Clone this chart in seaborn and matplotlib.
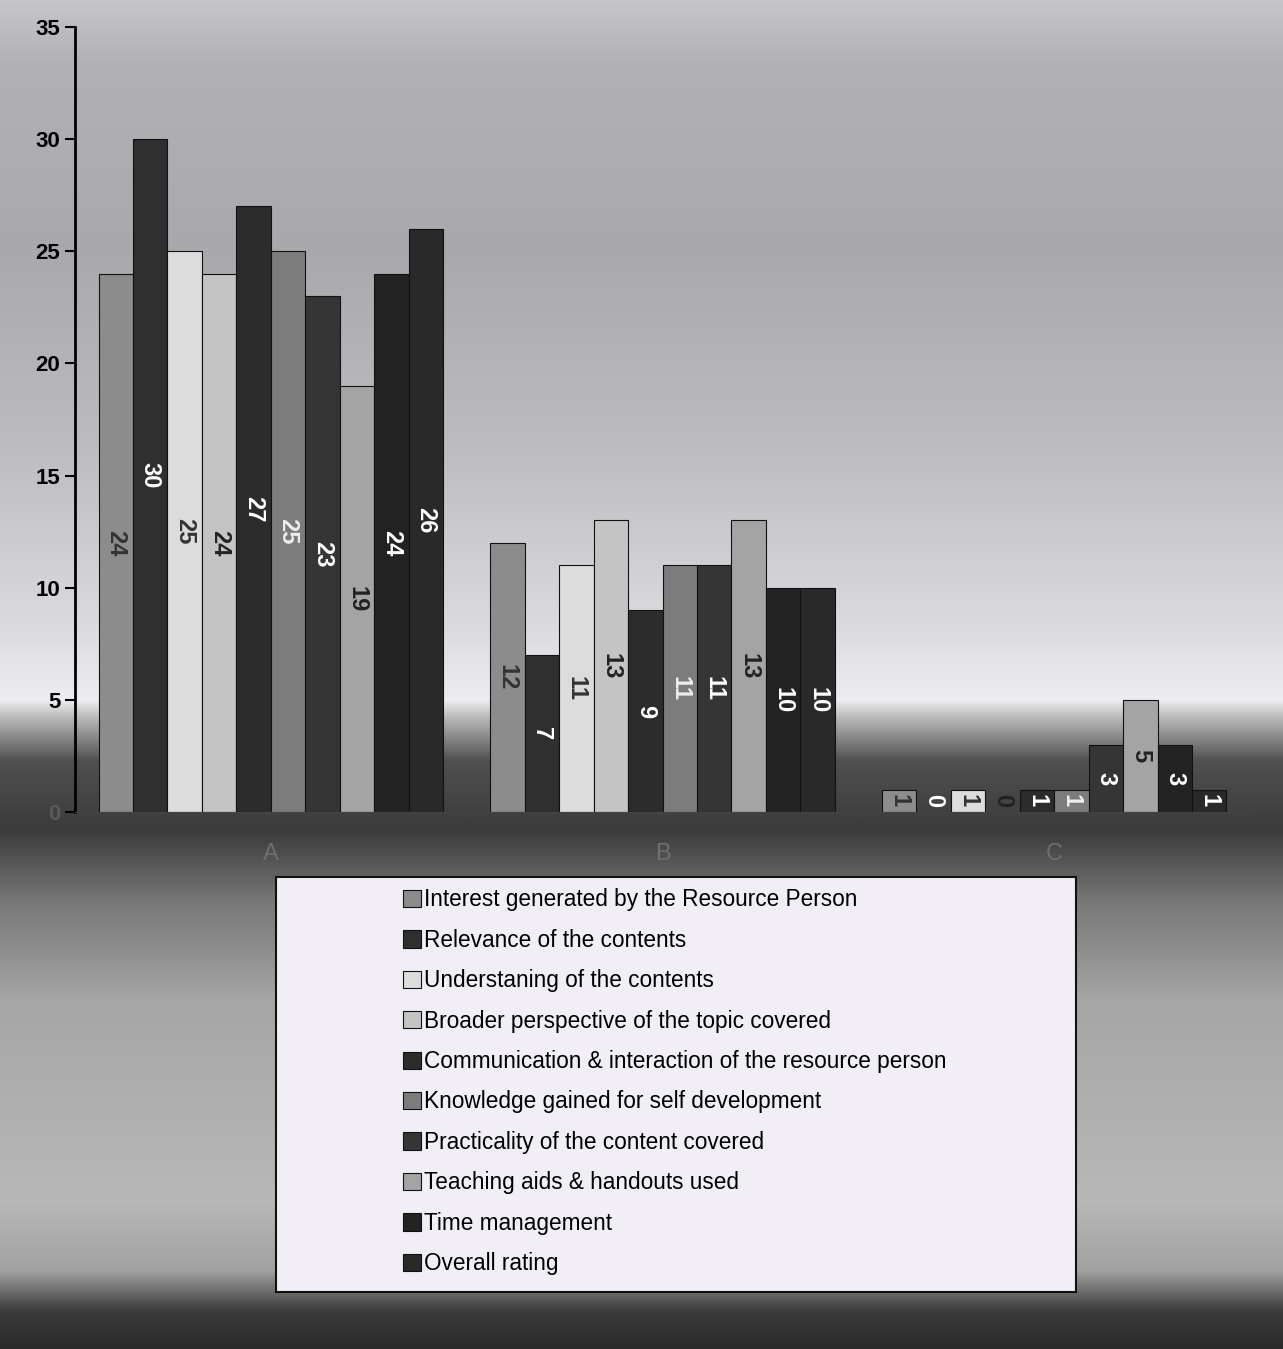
import numpy as np
import pandas as pd
import matplotlib
matplotlib.use("Agg")
import matplotlib.pyplot as plt
import matplotlib.colors as mcolors
from matplotlib.patches import Rectangle
import seaborn as sns

groups = ["A", "B", "C"]
criteria = [
    "Interest generated by the Resource Person",
    "Relevance of the contents",
    "Understaning of the contents",
    "Broader perspective of the topic covered",
    "Communication & interaction of the resource person",
    "Knowledge gained for self development",
    "Practicality of the content covered",
    "Teaching aids & handouts used",
    "Time management",
    "Overall rating",
]
counts_a = [24, 30, 25, 24, 27, 25, 23, 19, 24, 26]
counts_b = [12, 7, 11, 13, 9, 11, 11, 13, 10, 10]
counts_c = [1, 0, 1, 0, 1, 1, 3, 5, 3, 1]

bar_colors = ["#8c8c8c", "#2f2f2f", "#dcdcdc", "#c4c4c4", "#2c2c2c",
              "#7c7c7c", "#353535", "#a4a4a4", "#232323", "#292929"]
label_colors = ["#333333", "white", "#333333", "#222222", "white",
                "#eeeeee", "white", "#222222", "white", "white"]

rows = []
for g, vals in zip(groups, [counts_a, counts_b, counts_c]):
    for c, v in zip(criteria, vals):
        rows.append({"group": g, "criterion": c, "count": v})
df = pd.DataFrame(rows)

plt.rcParams["font.family"] = ["Liberation Sans", "DejaVu Sans"]

fig = plt.figure(figsize=(12.83, 13.49), dpi=100)

# grey photocopy-like background
bg = fig.add_axes([0, 0, 1, 1], zorder=-5)
stops = [(0, "#c6c6ca"), (60, "#b2b2b6"), (250, "#a9a9ad"), (450, "#bdbdc1"),
         (620, "#dadade"), (700, "#ededf1"), (716, "#bcbcbc"), (760, "#505050"),
         (830, "#3b3b3b"), (900, "#777777"), (1000, "#a6a6a6"), (1200, "#b8b8b8"),
         (1270, "#a2a2a2"), (1310, "#3c3c3c"), (1349, "#2a2a2a")]
ys = np.arange(1349)
grad = np.zeros((1349, 3))
for ch in range(3):
    grad[:, ch] = np.interp(ys, [s[0] for s in stops],
                            [mcolors.to_rgb(s[1])[ch] for s in stops])
bg.imshow(grad[:, None, :], aspect="auto", extent=[0, 1, 0, 1])
bg.axis("off")

ax = fig.add_axes([75 / 1283, 1 - 812 / 1349, 1175 / 1283, 785 / 1349])
ax.patch.set_alpha(0)
sns.barplot(data=df, x="group", y="count", hue="criterion", hue_order=criteria,
            palette=bar_colors, width=0.88, edgecolor="#111111", linewidth=0.8,
            ax=ax)

for i, cont in enumerate(ax.containers):
    for patch in cont.patches:
        h = patch.get_height()
        ax.text(patch.get_x() + patch.get_width() / 2, max(h, 1) / 2,
                f"{h:.0f}", rotation=270, ha="center", va="center",
                fontsize=17, fontweight="bold", color=label_colors[i])

ax.set_xlim(-0.5, 2.5)
ax.set_ylim(0, 35)
ax.set_yticks(range(0, 36, 5))
ax.set_xlabel("")
ax.set_ylabel("")
ax.tick_params(axis="y", labelsize=16, width=1.5, length=7)
for lab in ax.get_yticklabels():
    lab.set_fontweight("bold")
ax.get_yticklabels()[0].set_color("#5a5a5a")
ax.tick_params(axis="x", length=0, labelsize=17, labelcolor="#6e6e6e", pad=22)
ax.set_xticks([0.5, 1.5], minor=True)
ax.tick_params(axis="x", which="minor", length=6, color="#444444")
ax.spines["top"].set_visible(False)
ax.spines["right"].set_visible(False)
ax.spines["left"].set_linewidth(2)
ax.spines["bottom"].set_color("#444444")

handles, labels = ax.get_legend_handles_labels()
ax.get_legend().remove()

fig.patches.append(Rectangle((276 / 1283, 1 - 1292 / 1349), 800 / 1283, 415 / 1349,
                             transform=fig.transFigure, facecolor="#f1eff5",
                             edgecolor="#111111", linewidth=1.5, zorder=1))
leg = fig.legend(handles, labels, loc="upper left",
                 bbox_to_anchor=(392 / 1283, 1 - 877 / 1349),
                 frameon=False, fontsize=16.3, labelspacing=0.77,
                 handlelength=0.8, handleheight=0.8, handletextpad=0.1,
                 borderpad=0)
leg.set_zorder(2)

fig.savefig("out.png", dpi=100)
